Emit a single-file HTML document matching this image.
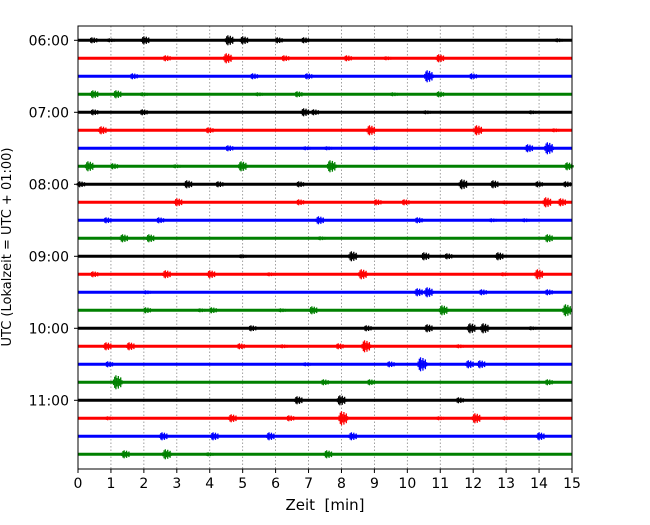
<!DOCTYPE html>
<html><head><meta charset="utf-8"><style>
body{margin:0;background:#fff;}
svg text{font-family:"DejaVu Sans","Liberation Sans",sans-serif;}
</style></head><body>
<svg id="chart" width="650" height="520" xmlns="http://www.w3.org/2000/svg"></svg>
<script>
const xTicks=[0,1,2,3,4,5,6,7,8,9,10,11,12,13,14,15];
const hourLabels=["06:00","07:00","08:00","09:00","10:00","11:00"];
const rowColors=["#000000","#ff0000","#0000ff","#008000"];
// each row: list of [minute, half-amplitude in px]
const r0=[[0.47,3],[1.0,2],[2.05,4],[4.6,5],[5.05,4],[6.1,3],[6.9,3],[14.6,2]];
const r1=[[2.7,3],[4.55,5],[6.3,3],[8.2,3],[9.4,2],[11.0,4]];
const r2=[[1.7,3],[5.35,3],[7.0,3],[10.65,6],[12.0,3]];
const r3=[[0.5,4],[1.2,4],[2.0,2],[5.5,2],[6.7,3],[9.6,2],[11.0,3]];
const r4=[[0.5,3],[2.0,3],[6.9,4],[7.2,3],[10.6,2],[13.8,2]];
const r5=[[0.75,4],[4.0,3],[8.9,5],[12.15,5],[14.5,2]];
const r6=[[4.6,3],[6.95,2],[7.6,2],[9.05,2],[13.7,4],[14.3,6]];
const r7=[[0.35,5],[1.1,3],[3.0,2],[5.0,5],[7.7,6],[14.9,4]];
const r8=[[0.1,3],[3.35,4],[4.3,3],[6.75,3],[11.7,5],[12.65,4],[14.0,3],[14.85,3]];
const r9=[[3.05,4],[6.75,3],[9.1,3],[9.95,3],[13.0,2],[14.25,5],[14.7,4]];
const r10=[[0.9,3],[2.5,3],[7.35,4],[10.35,3],[12.6,2],[13.6,2]];
const r11=[[1.4,4],[2.2,4],[7.4,2],[14.3,4]];
const r12=[[5.0,2],[8.35,5],[10.55,4],[11.25,3],[12.8,4]];
const r13=[[0.5,3],[2.7,4],[4.05,4],[5.85,2],[8.65,5],[12.95,2],[14.0,5]];
const r14=[[2.1,2],[10.35,4],[10.65,5],[12.3,3],[14.3,3]];
const r15=[[2.1,3],[3.75,2],[4.1,3],[6.2,2],[7.15,4],[11.1,5],[14.85,6]];
const r16=[[5.3,3],[8.8,3],[10.65,4],[11.95,5],[12.35,5],[13.8,2]];
const r17=[[0.9,4],[1.6,4],[4.95,3],[6.25,2],[7.95,3],[8.75,6],[11.6,2]];
const r18=[[0.95,3],[6.95,2],[9.5,3],[10.45,7],[11.9,4],[12.25,4]];
const r19=[[1.2,7],[7.5,3],[8.9,3],[14.3,3]];
const r20=[[6.7,4],[8.0,5],[11.6,3]];
const r21=[[0.95,2],[4.7,4],[6.45,3],[8.05,7],[11.0,2],[12.1,5],[13.0,2]];
const r22=[[2.6,4],[4.15,4],[5.85,4],[8.35,4],[14.05,4]];
const r23=[[1.45,4],[2.7,5],[4.0,2],[7.6,4]];
const rows=[r0,r1,r2,r3,r4,r5,r6,r7,r8,r9,r10,r11,r12,r13,r14,r15,r16,r17,r18,r19,r20,r21,r22,r23];

const L=78,R=572,T=26,B=469,Y0=40.3,DY=18;
const xs=m=>L+(m-xTicks[0])/(xTicks[xTicks.length-1]-xTicks[0])*(R-L);
const ys=i=>Y0+i*DY;
const NS="http://www.w3.org/2000/svg";
const svg=document.getElementById('chart');
function mk(t,a){const e=document.createElementNS(NS,t);for(const k in a)e.setAttribute(k,a[k]);return e;}

xTicks.forEach((t,i)=>{
  if(i>0&&i<xTicks.length-1){
    const g=mk('line',{x1:xs(t),x2:xs(t),y1:T,y2:B,stroke:'#888','stroke-width':0.8,'stroke-dasharray':'1.5,2'});
    
    
    svg.appendChild(g);
  }
});
const tmpl=[0.4,0.8,1,0.6,0.9,0.5,0.7,0.3];
rows.forEach((row,i)=>{
  const c=rowColors[i%4],y=ys(i);
  const g=mk('g',{});
  
  
  g.appendChild(mk('line',{x1:L,x2:R,y1:y,y2:y,stroke:c,'stroke-width':3}));
  row.forEach(([m,a])=>{
    const x=xs(m);
    tmpl.forEach((f,k)=>{
      const xx=x-4+k*1.2;
      g.appendChild(mk('line',{x1:xx,x2:xx,y1:y-a*f,y2:y+a*f,stroke:c,'stroke-width':1.3}));
    });
  });
  svg.appendChild(g);
});
const fr=mk('rect',{x:L,y:T,width:R-L,height:B-T,fill:'none',stroke:'#000','stroke-width':1});


svg.appendChild(fr);
xTicks.forEach(t=>{
  svg.appendChild(mk('line',{x1:xs(t),x2:xs(t),y1:B,y2:B+4,stroke:'#000','stroke-width':1}));
  const tx=mk('text',{x:xs(t),y:B+19,'text-anchor':'middle','font-size':14});
  
  
  tx.textContent=t;svg.appendChild(tx);
});
hourLabels.forEach((h,i)=>{
  const y=ys(i*4);
  svg.appendChild(mk('line',{x1:L-4,x2:L,y1:y,y2:y,stroke:'#000','stroke-width':1}));
  const tx=mk('text',{x:L-9,y:y+5,'text-anchor':'end','font-size':14});
  
  
  tx.textContent=h;svg.appendChild(tx);
});
const xl=mk('text',{x:325,y:510,'text-anchor':'middle','font-size':15,style:'white-space:pre'});


xl.textContent='Zeit  [min]';svg.appendChild(xl);
const yl=mk('text',{x:0,y:0,'text-anchor':'middle','font-size':13,transform:'translate(11,247) rotate(-90)'});


yl.textContent='UTC (Lokalzeit = UTC + 01:00)';svg.appendChild(yl);
</script>
</body></html>
